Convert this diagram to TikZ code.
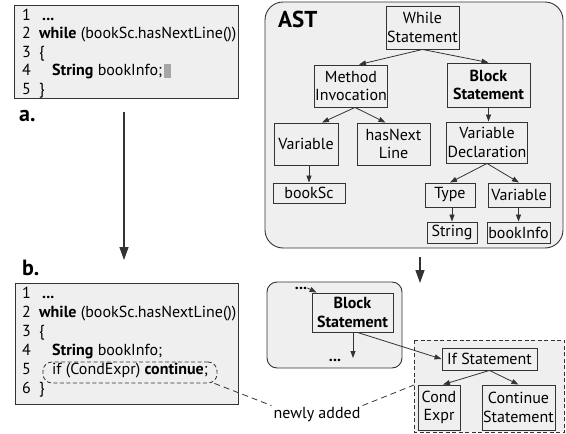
\documentclass[tikz,border=0pt]{standalone}
\usepackage{fontspec}
\setmainfont{PT Sans}
\usetikzlibrary{arrows.meta,calc}
\definecolor{bg}{HTML}{EFEFEF}
\definecolor{ln}{HTML}{333333}
\definecolor{cur}{HTML}{A6A6A6}
\begin{document}
\begin{tikzpicture}[x=1pt,y=-1pt,
  every node/.style={font=\fontsize{16}{18.5}\selectfont, text=black},
  tbox/.style={draw=ln, line width=0.9pt, align=center, inner sep=1pt},
  bbox/.style={tbox, font=\fontsize{16}{18.5}\selectfont\bfseries},
  codeln/.style={anchor=base west, inner sep=0pt},
  lbl/.style={anchor=base west, inner sep=0pt, font=\fontsize{22}{24}\selectfont\bfseries},
  arr/.style={draw=ln, line width=0.8pt, -{Triangle[length=7pt,width=5pt]}},
  bigarr/.style={draw=ln, line width=1.4pt, -{Triangle[length=13pt,width=9pt]}},
  ndash/.style={draw=ln, line width=0.8pt, dash pattern=on 6pt off 4pt},
  panel/.style={draw=ln, line width=0.9pt, fill=bg},
]
\useasboundingbox (0,0) rectangle (566,434);

% ---------- code a ----------
\path[panel] (14,5) rectangle (238,98);
\node[codeln] (a1n) at (22,20) {1};
\node[codeln] (a1)  at (42,20) {\textbf{...}};
\node[codeln] (a2n) at (22,38.5) {2};
\node[codeln] (a2)  at (39,38.5) {\textbf{while} (bookSc.hasNextLine())};
\node[codeln] (a3n) at (22,57) {3};
\node[codeln] (a3)  at (39,57) {\{};
\node[codeln] (a4n) at (22,75.5) {4};
\node[codeln] (a4)  at (52,75.5) {\textbf{String} bookInfo;};
\node[codeln] (a5n) at (22,94) {5};
\node[codeln] (a5)  at (39,94) {\}};
\fill[cur] ($(a4.base east)+(2,-12)$) rectangle ($(a4.base east)+(9,2)$);
\node[lbl] (la) at (19,121) {a.};

% big left arrow
\coordinate (ls) at (124,112);
\coordinate (le) at (124,260);
\draw[bigarr] (ls) -- (le);

% ---------- code b ----------
\node[lbl] (lb) at (22,275) {b.};
\path[panel] (15,283) rectangle (238,404);
\node[codeln] (b1n) at (22,298) {1};
\node[codeln] (b1)  at (42,298) {\textbf{...}};
\node[codeln] (b2n) at (22,317) {2};
\node[codeln] (b2)  at (39,317) {\textbf{while} (bookSc.hasNextLine())};
\node[codeln] (b3n) at (22,336) {3};
\node[codeln] (b3)  at (39,336) {\{};
\node[codeln] (b4n) at (22,355) {4};
\node[codeln] (b4)  at (52,355) {\textbf{String} bookInfo;};
\node[codeln] (b5n) at (22,374) {5};
\node[codeln] (b5)  at (52,374) {if (CondExpr) \textbf{continue};};
\node[codeln] (b6n) at (22,393) {6};
\node[codeln] (b6)  at (39,393) {\}};
\node[draw=ln, line width=0.8pt, dash pattern=on 4pt off 2.5pt, rounded corners=9pt,
      minimum width=174pt, minimum height=21pt, inner sep=0pt] (ell) at (130,372.5) {};

% ---------- AST ----------
\path[panel, rounded corners=18pt] (265,2) rectangle (563,248);
\node[anchor=base west, inner sep=0pt, font=\fontsize{23}{25}\selectfont\bfseries] (ast) at (278,27) {AST};

\node[tbox, minimum width=73pt, minimum height=43pt] (while) at (422.5,27.5) {While\\Statement};
\node[tbox, minimum width=72pt, minimum height=42pt] (meth) at (351,86) {Method\\Invocation};
\node[bbox, minimum width=83pt, minimum height=44pt] (block) at (488.5,85) {Block\\Statement};
\node[tbox, minimum width=64pt, minimum height=42pt] (var1) at (306,144) {Variable};
\node[tbox, minimum width=73pt, minimum height=42pt] (hasn) at (393.5,144) {hasNext\\Line};
\node[tbox, minimum width=80pt, minimum height=41pt] (vdecl) at (487,142.5) {Variable\\Declaration};
\node[tbox, minimum width=72pt, minimum height=20pt] (booksc) at (309,193) {bookSc};
\node[tbox, minimum width=50pt, minimum height=24pt] (type) at (450,195) {Type};
\node[tbox, minimum width=62pt, minimum height=24pt] (var2) at (519,195) {Variable};
\node[tbox, minimum width=50pt, minimum height=21pt] (str) at (452,232.5) {String};
\node[tbox, minimum width=63pt, minimum height=21pt] (binfo) at (518.5,232.5) {bookInfo};

\draw[arr] (while.south) -- ([xshift=8pt]meth.north);
\draw[arr] (while.south) -- (block.north);
\draw[arr] ([xshift=4pt]meth.south) -- ([xshift=16pt]var1.north);
\draw[arr] ([xshift=4pt]meth.south) -- ([xshift=-8pt]hasn.north);
\draw[arr] (block.south) -- (block.south |- vdecl.north);
\draw[arr] (var1.south -| booksc.north) -- (booksc.north);
\draw[arr] (vdecl.south) -- (type.north);
\draw[arr] (vdecl.south) -- (var2.north);
\draw[arr] (str.north |- type.south) -- (str.north);
\draw[arr] (binfo.north |- var2.south) -- (binfo.north);

% down arrow
\coordinate (ds) at (420,257);
\coordinate (de) at (420,283);
\draw[bigarr] (ds) -- (de);

% ---------- small panel ----------
\path[panel, rounded corners=10pt] (267,282) rectangle (402,368);
\node[anchor=base, inner sep=0pt, font=\fontsize{16}{18}\selectfont\bfseries] (dots1) at (301,289) {...};
\node[bbox, minimum width=81pt, minimum height=39pt] (block2) at (352.5,312.5) {Block\\Statement};
\node[anchor=base, inner sep=0pt, font=\fontsize{16}{18}\selectfont\bfseries] (dots2) at (335,361) {...};
\coordinate (d2tip) at (353,358);
\draw[arr] (dots1.east) -- ([xshift=5pt]block2.north west);
\draw[arr] (block2.south -| d2tip) -- (d2tip);

% ---------- new part ----------
\path[draw=ln, line width=0.8pt, fill=bg, dash pattern=on 4pt off 2.5pt] (414,340) rectangle (564.5,432);
\node[tbox, minimum width=95pt, minimum height=22pt] (ifst) at (489.5,359) {If Statement};
\node[tbox, minimum width=42pt, minimum height=45pt] (cond) at (439,407.5) {Cond\\Expr};
\node[tbox, minimum width=73pt, minimum height=45pt] (cont) at (518.5,407.5) {Continue\\Statement};
\draw[arr] ([xshift=5pt]block2.south) -- (ifst.west);
\draw[arr] (ifst.south) -- ([xshift=4pt]cond.north);
\draw[arr] (ifst.south) -- (cont.north);

\node[inner sep=2pt] (newly) at (317,415) {newly added};
\draw[ndash] ([xshift=-3pt]ell.south east) -- (newly.north west);
\draw[ndash] (newly.north east) -- (414,385);
\end{tikzpicture}
\end{document}
